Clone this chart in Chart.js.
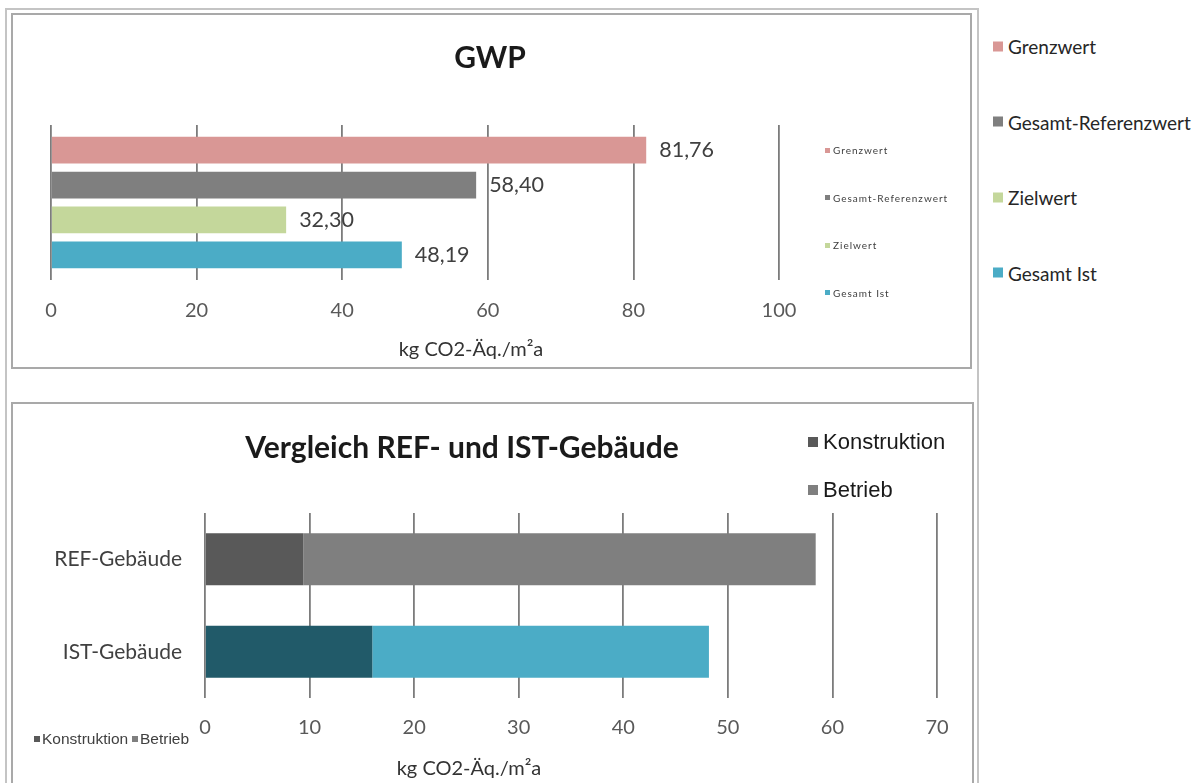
<!DOCTYPE html>
<html>
<head>
<meta charset="utf-8">
<script src="https://cdn.jsdelivr.net/npm/chart.js@4.4.1/dist/chart.umd.min.js"></script>
<style>
  body { margin: 0; width: 1195px; height: 783px; overflow: hidden; position: relative; background: #fff; font-family: Lato, sans-serif; color: #262626; }
  #frame { position: absolute; left: 5px; top: 8px; width: 970px; height: 800px; border: 2px solid #c4c4c4; border-bottom: none; }
  .box { position: absolute; border: 2px solid #a9a9a9; background: #fff; }
  #box1 { left: 11px; top: 13px; width: 957px; height: 352px; }
  #box2 { left: 11px; top: 402px; width: 959px; height: 400px; }
  canvas { position: absolute; }
  .title { position: absolute; font-weight: bold; white-space: nowrap; transform: translate(-50%, -50%); color: #1a1a1a; }
  .axis { position: absolute; white-space: nowrap; transform: translate(-50%, -50%); font-size: 20px; color: #333; }
  .leg { position: absolute; white-space: nowrap; display: flex; align-items: center; transform: translateY(-50%); }
  .sw { display: inline-block; }
</style>
</head>
<body>
<div id="frame"></div>
<div class="box" id="box1"></div>
<div class="box" id="box2"></div>
<canvas id="gwpChart" width="957" height="351" style="left:13px;top:15px"></canvas>
<canvas id="cmpChart" width="957" height="378" style="left:14px;top:405px"></canvas>
<div class="title" style="left:490px;top:56px;font-size:30px">GWP</div>
<div class="title" style="left:462px;top:446px;font-size:30px">Vergleich REF- und IST-Gebäude</div>
<div id="texts"></div>
<script>
/* --------------- Data --------------------- */
const gwpSeries = ["Grenzwert", "Gesamt-Referenzwert", "Zielwert", "Gesamt Ist"];
const gwpValues = [81.76, 58.40, 32.30, 48.19];
const gwpColors = ["#d99795", "#7f7f7f", "#c4d79b", "#4bacc6"];

const buildings = ["REF-Gebäude", "IST-Gebäude"];
const partNames = ["Konstruktion", "Betrieb"];
const konstruktion = [9.4, 16.0];
const betrieb = [49.0, 32.19];
const konstruktionColors = ["#595959", "#215a69"];
const betriebColors = ["#7f7f7f", "#4bacc6"];
const partLegendColors = ["#595959", "#7f7f7f"];

const unitLabel = "kg CO2-Äq./m²a";
const gridColor = "#7c7c7c";
const tickColor = "#595959";

/* --------------- Value labels right of the bars --------------------- */
const valueLabels = {
  id: "valueLabels",
  afterDatasetsDraw(chart) {
    const ctx = chart.ctx;
    ctx.save();
    ctx.font = "21.5px Lato";
    ctx.fillStyle = "#404040";
    ctx.textBaseline = "middle";
    chart.data.datasets.forEach((ds, i) => {
      chart.getDatasetMeta(i).data.forEach((bar, j) => {
        ctx.fillText(ds.data[j].toFixed(2).replace(".", ","), bar.x + 13, bar.y);
      });
    });
    ctx.restore();
  },
};

/* --------------- GWP chart --------------------- */
new Chart(document.getElementById("gwpChart"), {
  type: "bar",
  plugins: [valueLabels],
  data: {
    labels: [""],
    datasets: gwpSeries.map((name, i) => ({
      label: name,
      data: [gwpValues[i]],
      backgroundColor: gwpColors[i],
      categoryPercentage: 0.9,
      barPercentage: 0.77,
    })),
  },
  options: {
    indexAxis: "y",
    responsive: false,
    animation: false,
    layout: { padding: { left: 38, right: 191, top: 110, bottom: 7 } },
    plugins: { legend: { display: false }, tooltip: { enabled: false } },
    scales: {
      y: { display: false },
      x: {
        min: 0,
        max: 100,
        ticks: { stepSize: 20, padding: 19, color: tickColor, font: { family: "Lato", size: 20 } },
        grid: { color: gridColor, lineWidth: 1.8, drawTicks: false },
        border: { display: false },
        afterFit: (s) => { s.height = 79; },
      },
    },
  },
});

/* --------------- REF / IST chart --------------------- */
new Chart(document.getElementById("cmpChart"), {
  type: "bar",
  data: {
    labels: buildings,
    datasets: [
      { label: partNames[0], data: konstruktion, backgroundColor: konstruktionColors },
      { label: partNames[1], data: betrieb, backgroundColor: betriebColors },
    ],
  },
  options: {
    indexAxis: "y",
    responsive: false,
    animation: false,
    datasets: { bar: { categoryPercentage: 0.56, barPercentage: 1 } },
    layout: { padding: { left: 0, right: 34, top: 108, bottom: 3 } },
    plugins: { legend: { display: false }, tooltip: { enabled: false } },
    scales: {
      y: {
        stacked: true,
        grid: { display: false, drawTicks: false },
        border: { display: false },
        ticks: { padding: 23, color: "#404040", font: { family: "Lato", size: 21 } },
        afterFit: (s) => { s.width = 191; },
      },
      x: {
        stacked: true,
        min: 0,
        max: 70,
        ticks: { stepSize: 10, padding: 18, color: tickColor, font: { family: "Lato", size: 20 } },
        grid: { color: gridColor, lineWidth: 1.8, drawTicks: false },
        border: { display: false },
        afterFit: (s) => { s.height = 82; },
      },
    },
  },
});

/* --------------- Axis titles and legends --------------------- */
const texts = document.getElementById("texts");
function addAxisTitle(x, y, text) {
  const el = document.createElement("div");
  el.className = "axis";
  el.style.left = x + "px";
  el.style.top = y + "px";
  el.textContent = text;
  texts.appendChild(el);
}
addAxisTitle(471, 348, unitLabel);
addAxisTitle(469, 767, unitLabel);

function addLegend(x, y, text, color, size, sw, gap, font, textColor, spacing) {
  const el = document.createElement("div");
  el.className = "leg";
  el.style.left = x + "px";
  el.style.top = y + "px";
  el.style.fontSize = size + "px";
  if (font) el.style.fontFamily = font;
  if (textColor) el.style.color = textColor;
  if (spacing) el.style.letterSpacing = spacing + "px";
  el.innerHTML = `<span class="sw" style="width:${sw}px;height:${sw}px;background:${color};margin-right:${gap}px"></span>${text}`;
  texts.appendChild(el);
}

// outer legend right of the frame
gwpSeries.forEach((name, i) => addLegend(993, 46 + i * 75.5, name, gwpColors[i], 19, 10, 5));
// small legend inside the GWP box
gwpSeries.forEach((name, i) => addLegend(825, 150 + i * 47.5, name, gwpColors[i], 10, 5, 3, null, "#404040", 1));
// legend top right of the REF / IST box
partNames.forEach((name, i) => addLegend(808, 442 + i * 48, name, partLegendColors[i], 22, 10, 5, "'Liberation Sans', Arial", "#1a1a1a"));
// small legend bottom left of the REF / IST box
addLegend(34, 739, partNames[0], partLegendColors[0], 15.5, 6, 2, "'Liberation Sans', Arial", "#404040");
addLegend(132, 739, partNames[1], partLegendColors[1], 15.5, 6, 2, "'Liberation Sans', Arial", "#404040");
</script>
</body>
</html>
